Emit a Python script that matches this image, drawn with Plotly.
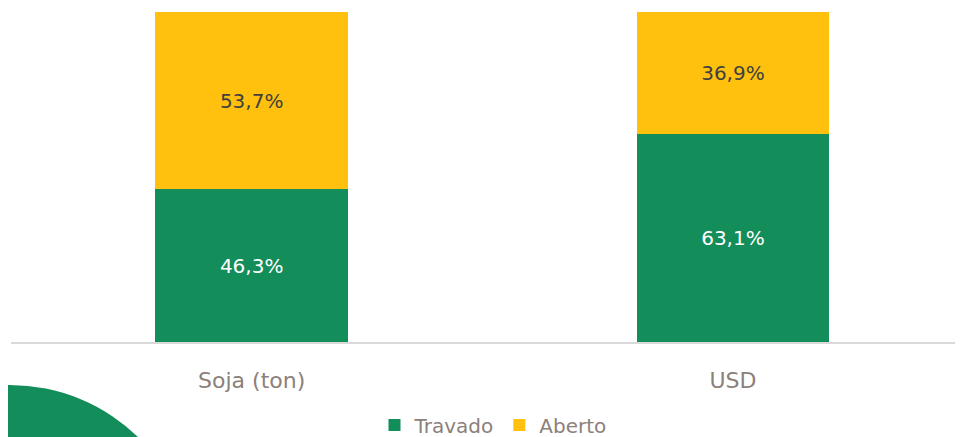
import plotly.graph_objects as go

categories = ["Soja (ton)", "USD"]
travado = [46.3, 63.1]
aberto = [53.7, 36.9]
series_names = ["Travado", "Aberto"]

GREEN = "#138D5A"
YELLOW = "#FFC10E"
TXT = "#8C807B"
FONT = "DejaVu Sans, sans-serif"

def fmt(v):
    return f"{v:.1f}".replace(".", ",") + "%"

fig = go.Figure()
fig.add_trace(go.Bar(
    x=categories, y=travado, name=series_names[0], marker=dict(color=GREEN, line_width=0),
    width=0.4, text=[fmt(v) for v in travado], textposition="inside",
    insidetextanchor="middle", textfont=dict(color="white", size=20, family=FONT),
    hoverinfo="skip",
))
fig.add_trace(go.Bar(
    x=categories, y=aberto, name=series_names[1], marker=dict(color=YELLOW, line_width=0),
    width=0.4, text=[fmt(v) for v in aberto], textposition="inside",
    insidetextanchor="middle", textfont=dict(color="#404040", size=20, family=FONT),
    hoverinfo="skip",
))

# page has 8px body margin; plot area in page px: x 11..963, y 12..342
FIG_H = 429
W, H = 952.0, 330.0
def px_x(p):
    return (p - 11) / W
def px_y(p):
    return (342 - p) / H

fig.add_shape(type="circle", xref="paper", yref="paper",
              x0=px_x(10 - 183.5), x1=px_x(10 + 183.5),
              y0=px_y(385 + 2 * 183.5), y1=px_y(385),
              fillcolor=GREEN, line_width=0, layer="below")

fig.update_layout(
    width=955, height=FIG_H,
    margin=dict(l=3, r=0, t=4, b=95, autoexpand=False),
    barmode="stack",
    paper_bgcolor="white", plot_bgcolor="white",
    font=dict(family=FONT, color=TXT, size=20),
    uniformtext=dict(mode=False),
    showlegend=True,
    legend=dict(orientation="h", x=px_x(493), xanchor="center",
                yref="container", y=1 - (425 - 8) / FIG_H, yanchor="middle",
                font=dict(size=20, color=TXT, family=FONT),
                itemwidth=30, traceorder="normal"),
    xaxis=dict(range=[-0.5, 1.478], showline=True, linecolor="#D9D9D9", linewidth=1.5,
               ticks="", ticklabelstandoff=18, automargin=False,
               tickfont=dict(size=22, color=TXT, family=FONT),
               showgrid=False, fixedrange=True),
    yaxis=dict(range=[0, 100], visible=False, showgrid=False, zeroline=False,
               fixedrange=True, automargin=False),
)

fig.write_html("out.html")
